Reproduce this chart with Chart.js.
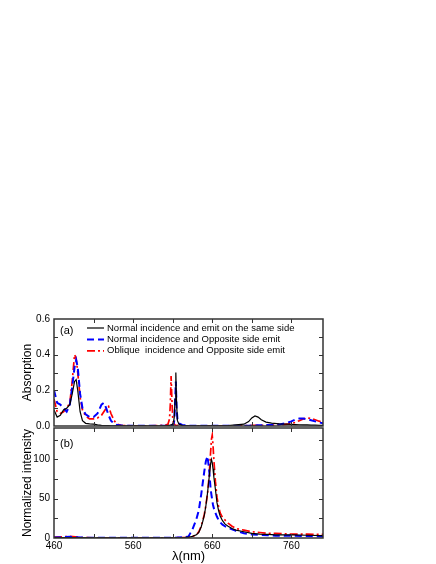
<!DOCTYPE html>
<html>
<head>
<meta charset="utf-8">
<script src="https://cdn.jsdelivr.net/npm/chart.js@4.4.1/dist/chart.umd.min.js"></script>
<style>
  body { margin: 0; background: #fff; width: 436px; height: 564px; position: relative; overflow: hidden; }
  canvas { position: absolute; left: 0; }
  #absorption-chart { top: 300px; }
  #emission-chart { top: 420px; }
</style>
</head>
<body>
<canvas id="absorption-chart" width="436" height="130"></canvas>
<canvas id="emission-chart" width="436" height="144"></canvas>
<script>
const seriesLabels = [
  'Normal incidence and emit on the same side',
  'Normal incidence and Opposite side emit',
  'Oblique  incidence and Opposite side emit'
];

// panel (a): absorption
const absWl = [460, 464, 468, 472, 476, 480, 483, 486, 488, 490, 493, 496, 500, 505, 510, 515, 520, 523, 526, 529, 532, 536,
  540, 545, 550, 560, 580, 600, 604, 606, 607, 608, 609, 610, 611, 612, 613, 614, 615, 616, 618, 622, 630, 650, 680,
  700, 706, 710, 714, 718, 722, 728, 735, 745, 755, 760, 765, 770, 775, 780, 785, 790, 795, 800];
const absSame = [0.09, 0.05, 0.06, 0.09, 0.10, 0.12, 0.18, 0.25, 0.26, 0.20, 0.08, 0.03, 0.015, 0.012, 0.01, 0.006, 0.003,
  0.002, 0.002, 0.002, 0.001, 0.001, 0.001, 0.001, 0.001, 0.001, 0.001, 0.002, 0.003, 0.004, 0.005, 0.006, 0.008, 0.012,
  0.02, 0.05, 0.15, 0.30, 0.12, 0.03, 0.01, 0.004, 0.002, 0.001, 0.002, 0.01, 0.025, 0.045, 0.056, 0.05, 0.035, 0.022,
  0.016, 0.012, 0.01, 0.009, 0.008, 0.007, 0.006, 0.006, 0.005, 0.005, 0.004, 0.004];
const absOpp = [0.20, 0.13, 0.12, 0.10, 0.08, 0.12, 0.22, 0.33, 0.37, 0.33, 0.18, 0.10, 0.065, 0.05, 0.05, 0.07, 0.12,
  0.13, 0.10, 0.06, 0.03, 0.012, 0.005, 0.003, 0.002, 0.001, 0.001, 0.001, 0.001, 0.002, 0.002, 0.003, 0.004, 0.006,
  0.01, 0.03, 0.12, 0.25, 0.10, 0.04, 0.015, 0.006, 0.002, 0.001, 0.001, 0.002, 0.002, 0.003, 0.003, 0.004, 0.004, 0.005,
  0.006, 0.009, 0.018, 0.026, 0.036, 0.042, 0.042, 0.038, 0.032, 0.026, 0.02, 0.015];
const absOblique = [0.15, 0.08, 0.07, 0.08, 0.10, 0.13, 0.25, 0.40, 0.38, 0.30, 0.16, 0.09, 0.055, 0.04, 0.04, 0.045, 0.06,
  0.08, 0.10, 0.11, 0.07, 0.03, 0.01, 0.004, 0.002, 0.001, 0.001, 0.004, 0.01, 0.04, 0.12, 0.28, 0.15, 0.05,
  0.02, 0.01, 0.006, 0.004, 0.003, 0.003, 0.002, 0.001, 0.001, 0.001, 0.001, 0.002, 0.002, 0.003, 0.003, 0.003, 0.004, 0.004,
  0.005, 0.007, 0.01, 0.014, 0.02, 0.03, 0.04, 0.045, 0.043, 0.035, 0.027, 0.022];

// panel (b): normalized emission
const emWl = [460, 470, 480, 487, 495, 510, 540, 580, 610, 625, 630, 635, 640, 643, 646, 648, 650, 652, 654, 656, 658, 659,
  660, 661, 662, 664, 666, 668, 670, 673, 676, 680, 685, 690, 700, 710, 720, 730, 740, 760, 780, 800];
const emSame = [0.5, 0.5, 0.5, 0.5, 0.5, 0.3, 0.2, 0.2, 0.3, 0.5, 1, 2, 4, 7, 14, 21, 29, 41, 57, 76, 95, 100,
  96, 88, 78, 62, 45, 35, 28, 22, 18, 15, 12, 10, 8, 6, 5, 4.5, 4, 4, 3.5, 3];
const emOpp = [0.5, 1, 1.5, 1, 0.5, 0.3, 0.2, 0.2, 0.3, 1, 2, 11, 24, 35, 55, 70, 85, 98, 104, 88, 62, 55,
  48, 42, 38, 32, 27, 23, 20, 17, 15, 13, 11, 9, 6, 4.5, 4, 3.5, 3, 3, 2.5, 2];
const emOblique = [1, 1.5, 2, 1.5, 0.5, 0.3, 0.3, 0.3, 0.3, 0.5, 1, 2, 4, 8, 15, 22, 30, 42, 56, 78, 110, 126,
  131, 118, 100, 72, 52, 40, 32, 26, 23, 19, 15, 12, 10, 8, 7, 6, 6, 5, 5, 4.5];

const xTicks = [460, 560, 660, 760];
const xMinor = [460, 510, 560, 610, 660, 710, 760];
const absYTicks = [0, 0.2, 0.4, 0.6];
const absYMinor = [0.1, 0.2, 0.3, 0.4, 0.5];
const emYTicks = [0, 50, 100];
const emYMinor = [25, 50, 75, 100, 125];

const FONT = '"Liberation Sans", Arial, sans-serif';
Chart.defaults.font.family = FONT;
Chart.defaults.color = '#000';

const styles = [
  { borderColor: '#000000', borderWidth: 1.2, borderDash: [] },
  { borderColor: '#0000ff', borderWidth: 2, borderDash: [7, 4] },
  { borderColor: '#ff0000', borderWidth: 1.7, borderDash: [8, 3, 2, 3] }
];

function makeDatasets(wl, series) {
  return series.map((vals, i) => ({
    label: seriesLabels[i],
    data: wl.map((w, k) => ({ x: w, y: vals[k] })),
    ...styles[i],
    pointRadius: 0,
    tension: 0,
    fill: false
  }));
}

// y axis: fixed width, no extra layout padding for half-height labels
function fixYAxis(s) {
  s.width = 54;
  s.paddingTop = 0;
  s.paddingBottom = 0;
}

// frame, inward ticks, panel tag and in-plot legend
const panelFrame = {
  id: 'panelFrame',
  afterDatasetsDraw(chart, args, opts) {
    const { ctx, chartArea: area, scales: { x, y } } = chart;
    ctx.save();
    ctx.strokeStyle = '#333';
    ctx.lineWidth = 1;
    ctx.beginPath();
    opts.xMinor.forEach(v => {
      const px = Math.round(x.getPixelForValue(v)) + 0.5;
      if (px <= area.left + 1 || px >= area.right - 1) return;
      ctx.moveTo(px, area.bottom); ctx.lineTo(px, area.bottom - 4);
      ctx.moveTo(px, area.top); ctx.lineTo(px, area.top + 4);
    });
    opts.yMinor.forEach(v => {
      const py = Math.round(y.getPixelForValue(v)) + 0.5;
      if (py <= area.top + 1 || py >= area.bottom - 1) return;
      ctx.moveTo(area.left, py); ctx.lineTo(area.left + 4, py);
      ctx.moveTo(area.right, py); ctx.lineTo(area.right - 4, py);
    });
    ctx.stroke();
    ctx.lineWidth = 1.5;
    ctx.strokeRect(area.left, area.top, area.width, area.height);

    ctx.fillStyle = '#000';
    ctx.font = '11px ' + FONT;
    ctx.textBaseline = 'middle';
    ctx.fillText(opts.tag, area.left + 6, area.top + opts.tagY);

    if (opts.legend) {
      ctx.font = '9.5px ' + FONT;
      chart.data.datasets.forEach((ds, i) => {
        const ly = area.top + 9 + i * 11.4;
        ctx.strokeStyle = ds.borderColor;
        ctx.lineWidth = ds.borderWidth;
        ctx.setLineDash(ds.borderDash);
        ctx.beginPath();
        ctx.moveTo(area.left + 33, ly);
        ctx.lineTo(area.left + 50, ly);
        ctx.stroke();
        ctx.setLineDash([]);
        ctx.fillText(ds.label, area.left + 53, ly);
      });
    }
    ctx.restore();
  }
};

const absorptionChart = new Chart(document.getElementById('absorption-chart'), {
  type: 'line',
  data: { datasets: makeDatasets(absWl, [absSame, absOpp, absOblique]) },
  plugins: [panelFrame],
  options: {
    responsive: false,
    animation: false,
    layout: { padding: { top: 19, right: 113, bottom: 0, left: 0 } },
    plugins: {
      legend: { display: false },
      tooltip: { enabled: false },
      panelFrame: { xMinor, yMinor: absYMinor, tag: '(a)', tagY: 12, legend: true }
    },
    scales: {
      x: {
        type: 'linear', min: 460, max: 800,
        afterFit: s => { s.height = 4; },
        ticks: { display: false },
        grid: { display: false, drawTicks: false },
        border: { display: false }
      },
      y: {
        min: 0, max: 0.6,
        afterFit: fixYAxis,
        afterBuildTicks: s => { s.ticks = absYTicks.map(v => ({ value: v })); },
        ticks: { font: { size: 10 }, padding: 4, callback: v => v.toFixed(1) },
        grid: { display: false, drawTicks: false },
        border: { display: false },
        title: { display: true, text: 'Absorption', font: { size: 12 }, padding: { top: 20, bottom: 0 } }
      }
    }
  }
});

const emissionChart = new Chart(document.getElementById('emission-chart'), {
  type: 'line',
  data: { datasets: makeDatasets(emWl, [emSame, emOpp, emOblique]) },
  plugins: [panelFrame],
  options: {
    responsive: false,
    animation: false,
    layout: { padding: { top: 8, right: 113, bottom: 0, left: 0 } },
    plugins: {
      legend: { display: false },
      tooltip: { enabled: false },
      panelFrame: { xMinor, yMinor: emYMinor, tag: '(b)', tagY: 16, legend: false }
    },
    scales: {
      x: {
        type: 'linear', min: 460, max: 800,
        afterFit: s => { s.height = 26; },
        afterBuildTicks: s => { s.ticks = xTicks.map(v => ({ value: v })); },
        ticks: { font: { size: 10 }, padding: 2, maxRotation: 0 },
        grid: { display: false, drawTicks: false },
        border: { display: false },
        title: { display: true, text: 'λ(nm)', font: { size: 13 }, padding: { top: 0, bottom: 0 } }
      },
      y: {
        min: 0, max: 140,
        afterFit: fixYAxis,
        afterBuildTicks: s => { s.ticks = emYTicks.map(v => ({ value: v })); },
        ticks: { font: { size: 10 }, padding: 4 },
        grid: { display: false, drawTicks: false },
        border: { display: false },
        title: { display: true, text: 'Normalized intensity', font: { size: 12 }, padding: { top: 20, bottom: 0 } }
      }
    }
  }
});
</script>
</body>
</html>
